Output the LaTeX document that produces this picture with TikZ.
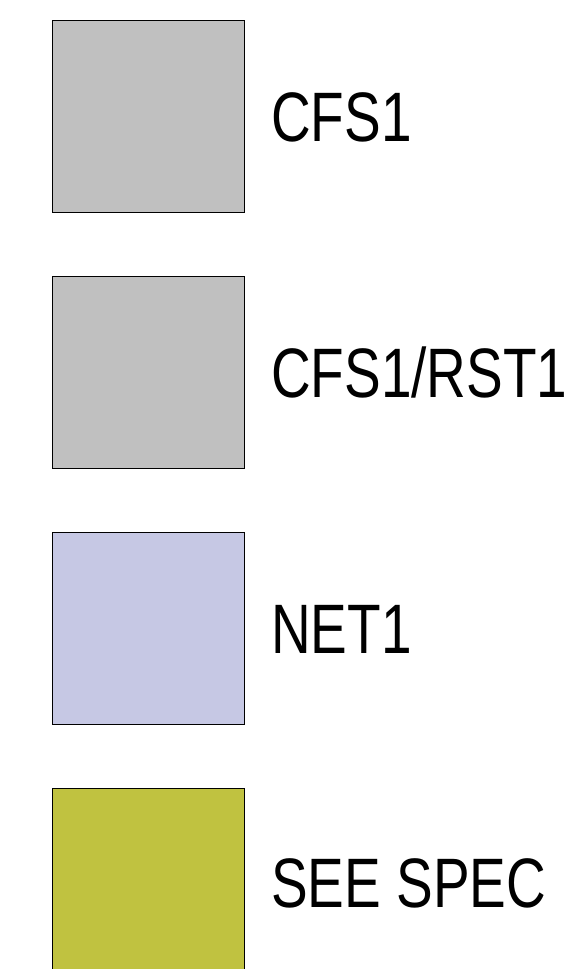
\documentclass[tikz,border=0pt]{standalone}
\usepackage{fontspec}
\setmainfont{Liberation Sans}
\newfontfamily\narrowfont[FakeStretch=0.785]{Liberation Sans}

\definecolor{swgray}{RGB}{192,192,192}
\definecolor{swlav}{RGB}{198,200,228}
\definecolor{swolive}{RGB}{192,194,64}

\begin{document}
\begin{tikzpicture}[x=1pt, y=1pt,
  swatch/.style={draw=black, line width=1pt, minimum size=192pt, inner sep=0pt},
  lbl/.style={anchor=base west, inner sep=0pt, font=\narrowfont\fontsize{70}{84}\selectfont}]
  \useasboundingbox (0, 0) rectangle (567, 969);
  \clip (0, 0) rectangle (567, 969);

  % colour swatches
  \node[swatch, fill=swgray] (sw1) at (148, 852.5) {};
  \node[swatch, fill=swgray] (sw2) at (148, 596.5) {};
  \node[swatch, fill=swlav] (sw3) at (148, 340.5) {};
  \node[swatch, fill=swolive] (sw4) at (148, 84.5) {};

  % legend texts
  \node[lbl] (lbl1) at (271, 827) {CFS1};
  \node[lbl] (lbl2) at (271, 571) {CFS1/RST1};
  \node[lbl] (lbl3) at (271, 315) {NET1};
  \node[lbl] (lbl4) at (271, 61) {SEE SPEC};
\end{tikzpicture}
\end{document}
